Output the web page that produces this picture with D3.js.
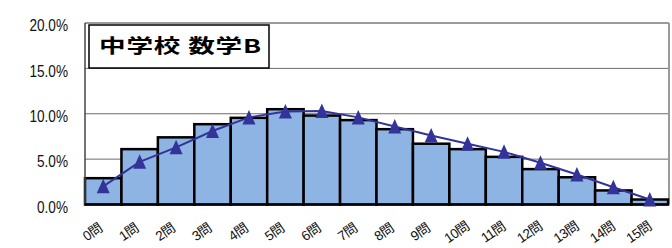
<!DOCTYPE html>
<html><head><meta charset="utf-8">
<script src="https://cdn.jsdelivr.net/npm/d3@7"></script>
<style>
html,body{margin:0;padding:0;background:#fff;}
svg{display:block;}
</style></head>
<body>
<svg id="chart" width="672" height="248"></svg>
<script>
const categories = ["0問","1問","2問","3問","4問","5問","6問","7問","8問","9問","10問","11問","12問","13問","14問","15問"];
const barValues = [2.9, 6.1, 7.4, 8.85, 9.55, 10.5, 9.8, 9.3, 8.3, 6.7, 6.1, 5.25, 3.9, 3.0, 1.55, 0.55];
const lineValues = [2.0, 4.7, 6.3, 8.1, 9.6, 10.25, 10.3, 9.6, 8.6, 7.6, 6.7, 5.8, 4.6, 3.3, 1.9, 0.55];
const yTicks = [0, 5, 10, 15, 20];
const titleText = "中学校 数学B";

const svg = d3.select("#chart");
const L = 85, R = 668, T = 23, B = 204.5;

const x = d3.scaleBand().domain(categories).range([L, R]).padding(0);
const y = d3.scaleLinear().domain([0, 20]).range([B, T]);

// gridlines
svg.append("g").selectAll("line").data(yTicks.filter(d => d > 0 && d < 20)).join("line")
  .attr("x1", L).attr("x2", R).attr("y1", d => y(d)).attr("y2", d => y(d))
  .attr("stroke", "#6b6b6b").attr("stroke-width", 1);

// plot border
svg.append("line").attr("x1", L).attr("x2", R + 1).attr("y1", T).attr("y2", T)
  .attr("stroke", "#9a9a9a").attr("stroke-width", 2);
svg.append("line").attr("x1", R + 1).attr("x2", R + 1).attr("y1", T).attr("y2", B)
  .attr("stroke", "#9a9a9a").attr("stroke-width", 2);

// bars
svg.append("g").selectAll("rect").data(barValues).join("rect")
  .attr("x", (d, i) => x(categories[i]))
  .attr("y", d => y(d))
  .attr("width", x.bandwidth())
  .attr("height", d => B - y(d))
  .attr("fill", "#8db4e2")
  .attr("stroke", "#000").attr("stroke-width", 2.5);

// axes lines
svg.append("line").attr("x1", L).attr("x2", L).attr("y1", T).attr("y2", B)
  .attr("stroke", "#444").attr("stroke-width", 1.5);
svg.append("line").attr("x1", L).attr("x2", R + 1).attr("y1", B).attr("y2", B)
  .attr("stroke", "#000").attr("stroke-width", 2);

// y labels
const yAxis = d3.axisLeft(y).tickValues(yTicks).tickSize(0).tickPadding(0)
  .tickFormat(d => d.toFixed(1) + "%");
const gy = svg.append("g").attr("transform", `translate(${L},0)`).call(yAxis);
gy.select(".domain").remove();
gy.selectAll("text")
  .attr("font-family", "'Liberation Sans', Arial, sans-serif")
  .attr("font-size", 17)
  .attr("fill", "#111").attr("x", 0).attr("dy", "0.45em")
  .attr("transform", "translate(-17,0) scale(0.8,1)");

// x labels
const xAxis = d3.axisBottom(x).tickSize(0).tickPadding(0);
const gx = svg.append("g").attr("transform", `translate(0,${B})`).call(xAxis);
gx.select(".domain").remove();
gx.selectAll("text")
  .attr("font-family", "'Liberation Sans', 'Noto Sans CJK JP', sans-serif")
  .attr("font-size", 13.5).attr("letter-spacing", -0.6)
  .attr("fill", "#111")
  .attr("text-anchor", "middle")
  .attr("y", 0).attr("dy", "0.35em")
  .attr("transform", "translate(-11,27.5) rotate(-34)");

// line
const line = d3.line().x((d, i) => x(categories[i]) + x.bandwidth() / 2).y(d => y(d));
svg.append("path").datum(lineValues).attr("d", line)
  .attr("fill", "none").attr("stroke", "#333399").attr("stroke-width", 2);

// markers
svg.append("g").selectAll("path").data(lineValues).join("path")
  .attr("transform", (d, i) => `translate(${x(categories[i]) + x.bandwidth() / 2},${y(d)})`)
  .attr("d", "M0,-7.5L6.5,7L-6.5,7Z")
  .attr("fill", "#333399");

// title box
svg.append("rect").attr("x", 89).attr("y", 25).attr("width", 180).attr("height", 43)
  .attr("fill", "#fff").attr("stroke", "#000").attr("stroke-width", 1.5);
svg.append("text").attr("x", 0).attr("y", 0)
  .attr("transform", "translate(99,52.5) scale(1.4,1)")
  .attr("font-family", "'Noto Sans CJK JP', sans-serif")
  .attr("font-weight", "bold").attr("font-size", 19).attr("letter-spacing", 0.6)
  .attr("fill", "#000").text(titleText);
</script>
</body></html>
